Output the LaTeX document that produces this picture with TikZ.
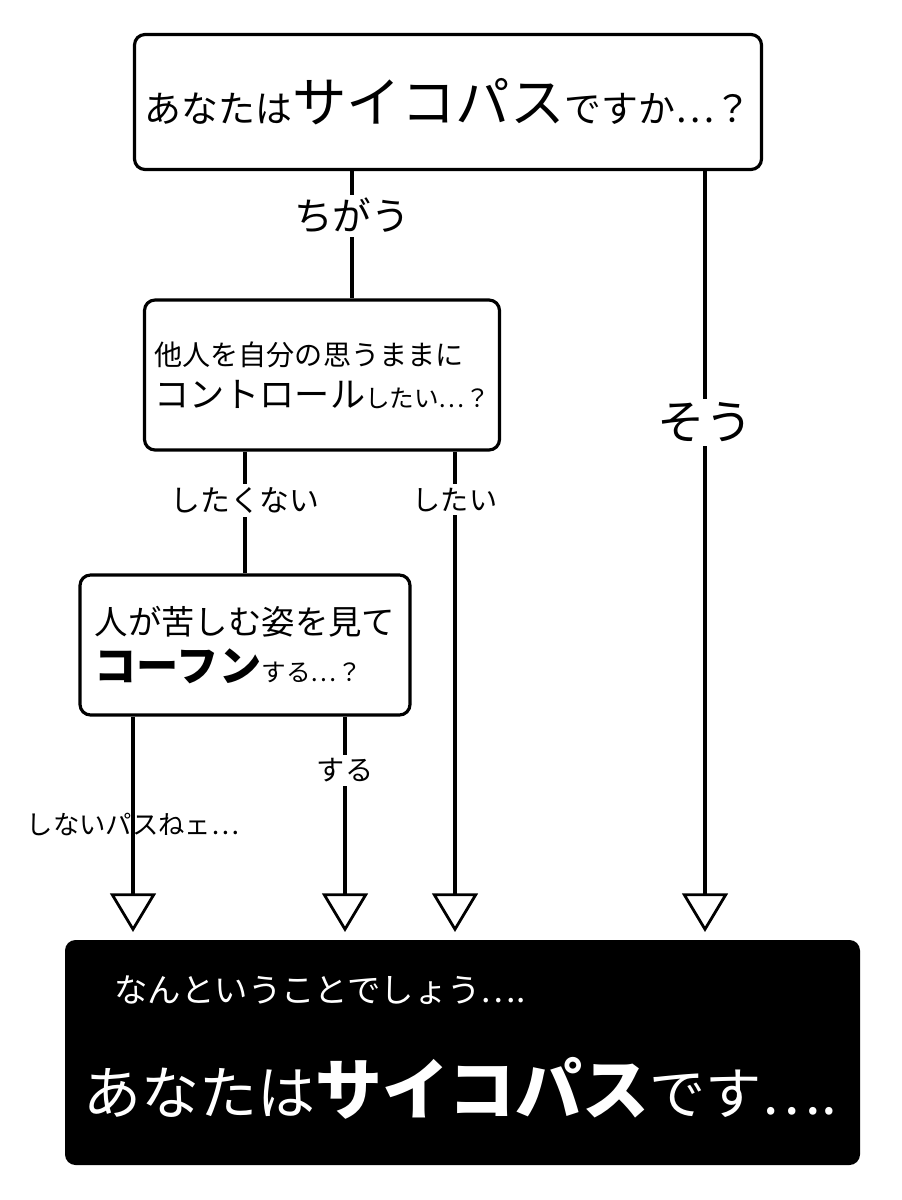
\documentclass[tikz,border=0pt]{standalone}
\usepackage{fontspec}
\setmainfont{Noto Sans CJK JP}
\usetikzlibrary{arrows.meta, positioning}
\newcommand{\fs}[1]{\fontsize{#1}{#1}\selectfont}
\begin{document}
\begin{tikzpicture}[x=0.02cm, y=-0.02cm,
    qbox/.style={draw, line width=1.8pt, rounded corners=6pt, inner sep=0pt},
    flow/.style={line width=1.8pt, -{Triangle[open, length=22pt, width=26pt, line width=1.6pt]}},
    link/.style={line width=1.8pt},
    lab/.style={fill=white, inner sep=2pt}]
    \useasboundingbox (0,0) rectangle (902,1200);
    % Fragen
    \node[qbox, minimum width=627*0.02cm, minimum height=135*0.02cm] (q1) at (448,102)
        {\fs{21}あなたは\fs{31}サイコパス\fs{21}ですか…？};
    \node[qbox, minimum width=355*0.02cm, minimum height=150*0.02cm, align=left] (q2) at (322,375)
        {\fs{16}他人を自分の思うままに\\[6pt]\fs{20}コントロール\fs{14}したい…？};
    \node[qbox, minimum width=330*0.02cm, minimum height=140*0.02cm, align=left] (q3) at (245,645)
        {\fs{19}人が苦しむ姿を見て\\[6pt]\fs{24}\bfseries コーフン\fs{14}\mdseries する…？};
    % Ergebnis
    \fill[rounded corners=6pt] (65,940) rectangle (860,1165);
    \node[text=white] (r1) at (320,990) {\fs{19}なんということでしょう….};
    \node[text=white] (r2) at (460,1088) {\fs{33}あなたは\fs{38}\bfseries サイコパス\fs{32}\mdseries です….};
    % Zielpunkte
    \coordinate (e1) at (133,932);
    \coordinate (e2) at (345,932);
    \coordinate (e3) at (455,932);
    \coordinate (e4) at (705,932);
    % Verbindungen
    \draw[link] (q1.south -| 352,0) -- (q2.north -| 352,0) node[lab, pos=0.35] {\fs{22}ちがう};
    \draw[flow] (q1.south -| e4) -- (e4) node[lab, pos=0.33] {\fs{27}そう};
    \draw[link] (q2.south -| 245,0) -- (q3.north -| 245,0) node[lab, pos=0.4] {\fs{17}したくない};
    \draw[flow] (q2.south -| e3) -- (e3) node[lab, pos=0.1] {\fs{16}したい};
    \draw[flow] (q3.south -| e1) -- (e1) node[lab, fill=none, pos=0.5] at (145,825) {\fs{15}しないパスねェ…};
    \draw[flow] (q3.south -| e2) -- (e2) node[lab, pos=0.25] {\fs{16}する};
\end{tikzpicture}
\end{document}
